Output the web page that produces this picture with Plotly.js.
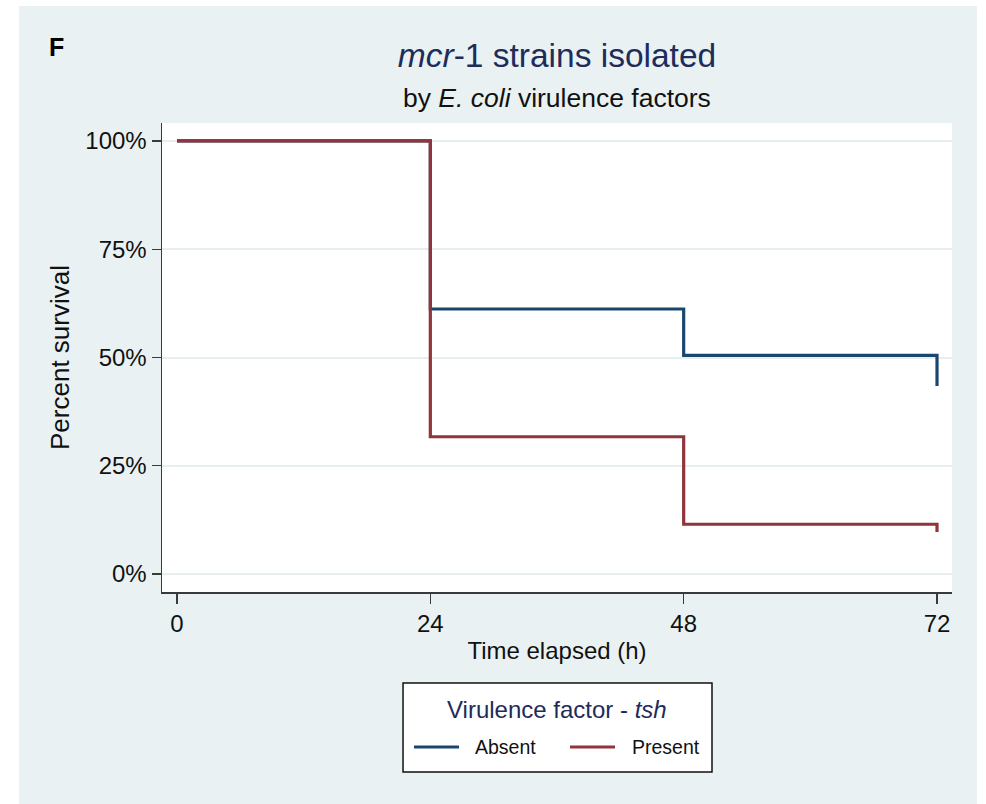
<!DOCTYPE html>
<html>
<head>
<meta charset="utf-8">
<script src="https://cdn.plot.ly/plotly-3.0.1.min.js"></script>
<style>
  html, body { margin: 0; padding: 0; background: #ffffff; }
  #chart { position: absolute; left: 19px; top: 6px; width: 958px; height: 798px; }
</style>
</head>
<body>
<div id="chart"></div>
<script>
// Kaplan-Meier style survival steps, hours vs percent surviving
const hours = [0, 24, 48, 72, 72];
const absentSurvival = [100, 61.2, 50.5, 50.5, 43.4];
const presentSurvival = [100, 31.7, 11.5, 11.5, 9.7];

const groupNames = ['Absent', 'Present'];
const groupColors = ['#1a476f', '#90353b'];

const xTickVals = [0, 24, 48, 72];
const xTickText = ['0', '24', '48', '72'];
const yTickVals = [0, 25, 50, 75, 100];
const yTickText = ['0%', '25%', '50%', '75%', '100%'];

const FONT = 'Liberation Sans, Arial, Helvetica, sans-serif';
const NAVY = '#1e2c5a';
const AXIS = '#3a3a3a';
const BG = '#e9f1f3';

const traces = [absentSurvival, presentSurvival].map((ys, i) => ({
  type: 'scatter',
  mode: 'lines',
  x: hours,
  y: ys,
  name: groupNames[i],
  line: { color: groupColors[i], width: 3.2, shape: 'hv' },
  showlegend: false,
  hoverinfo: 'skip'
}));

// hand-built legend box below the plot
const legendBox = { x0: 0.3051, x1: 0.6962, y0: -0.3838, y1: -0.194 };
const legendRowY = -0.3305;
const legendLineX = [[0.319, 0.376], [0.5165, 0.5734]];
const legendTextX = [0.3937, 0.5924];

const shapes = [
  {
    type: 'rect', xref: 'paper', yref: 'paper',
    x0: legendBox.x0, x1: legendBox.x1, y0: legendBox.y0, y1: legendBox.y1,
    fillcolor: '#ffffff', line: { color: '#111111', width: 1.5 }
  }
];
groupNames.forEach((name, i) => {
  shapes.push({
    type: 'line', xref: 'paper', yref: 'paper',
    x0: legendLineX[i][0], x1: legendLineX[i][1], y0: legendRowY, y1: legendRowY,
    line: { color: groupColors[i], width: 3 }
  });
});

const annotations = [
  {
    text: '<b>F</b>', xref: 'paper', yref: 'paper', x: -0.134, y: 1.162,
    xanchor: 'center', yanchor: 'middle', showarrow: false,
    font: { family: FONT, size: 25, color: '#000000' }
  },
  {
    text: 'by <i>E. coli</i> virulence factors', xref: 'paper', yref: 'paper',
    x: 0.5, y: 1.0533, xanchor: 'center', yanchor: 'middle', showarrow: false,
    font: { family: FONT, size: 26.5, color: '#111111' }
  },
  {
    text: 'Virulence factor - <i>tsh</i>', xref: 'paper', yref: 'paper',
    x: 0.5, y: -0.2495, xanchor: 'center', yanchor: 'middle', showarrow: false,
    font: { family: FONT, size: 24, color: NAVY }
  }
];
groupNames.forEach((name, i) => {
  annotations.push({
    text: name, xref: 'paper', yref: 'paper',
    x: legendTextX[i], y: legendRowY, xanchor: 'left', yanchor: 'middle', showarrow: false,
    font: { family: FONT, size: 19.5, color: '#111111' }
  });
});

const layout = {
  width: 958,
  height: 798,
  margin: { l: 143, r: 25, t: 117, b: 212, pad: 0 },
  paper_bgcolor: BG,
  plot_bgcolor: '#ffffff',
  font: { family: FONT, color: '#111111' },
  title: {
    text: '<i>mcr</i>-1 strains isolated',
    font: { family: FONT, size: 33.5, color: NAVY },
    xref: 'paper', x: 0.5, xanchor: 'center',
    yref: 'container', y: 0.9386, yanchor: 'middle'
  },
  xaxis: {
    range: [-1.42, 73.42],
    tickmode: 'array', tickvals: xTickVals, ticktext: xTickText,
    ticks: 'outside', ticklen: 10, tickwidth: 1.3, tickcolor: AXIS,
    tickfont: { family: FONT, size: 24, color: '#111111' },
    showline: true, linecolor: AXIS, linewidth: 1.5,
    showgrid: false, zeroline: false,
    title: { text: 'Time elapsed (h)', font: { family: FONT, size: 24, color: '#111111' }, standoff: 6 },
    automargin: false, fixedrange: true
  },
  yaxis: {
    range: [-4.15, 104.15],
    tickmode: 'array', tickvals: yTickVals, ticktext: yTickText,
    ticks: 'outside', ticklen: 9, tickwidth: 1.3, tickcolor: AXIS,
    tickfont: { family: FONT, size: 24, color: '#111111' },
    showline: true, linecolor: AXIS, linewidth: 1.5,
    showgrid: true, gridcolor: '#e6eef0', gridwidth: 2,
    zeroline: false,
    title: { text: 'Percent survival', font: { family: FONT, size: 26, color: '#111111' }, standoff: 8 },
    automargin: false, fixedrange: true
  },
  shapes: shapes,
  annotations: annotations,
  showlegend: false
};

Plotly.newPlot('chart', traces, layout, { displayModeBar: false, staticPlot: true });
</script>
</body>
</html>
